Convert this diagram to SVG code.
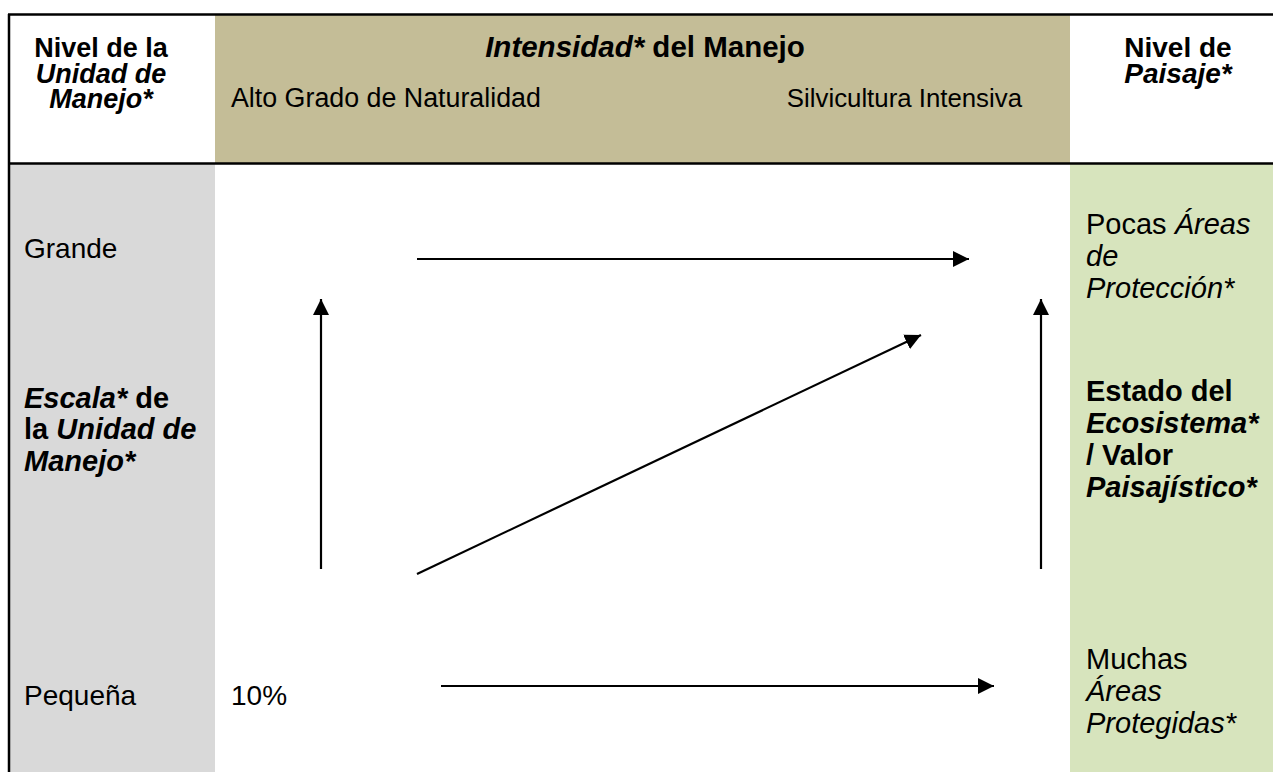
<svg xmlns="http://www.w3.org/2000/svg" width="1273" height="772" viewBox="0 0 1273 772">
<defs>
<style>
text{font-family:"Liberation Sans",Arial,sans-serif;font-size:28px;fill:#000}
.b{font-weight:bold;font-size:29px}
.i{font-style:italic}
.c{text-anchor:middle}
.r{font-size:29px}
.hl{font-size:27px}
.conn line{stroke:#000;stroke-width:2.2;marker-end:url(#ah)}
.rule{stroke:#000;stroke-width:2.5}
</style>
<marker id="ah" markerUnits="userSpaceOnUse" markerWidth="16" markerHeight="16" refX="16" refY="8" orient="auto" viewBox="0 0 16 16">
<path d="M0,0 L16,8 L0,16 z" fill="#000"/>
</marker>
</defs>
<rect width="1273" height="772" fill="#fff"/>
<g id="backgrounds">
<rect x="215" y="15" width="855" height="148" fill="#C4BD97"/>
<rect x="9" y="164" width="206" height="608" fill="#D9D9D9"/>
<rect x="1070" y="164" width="203" height="608" fill="#D7E4BD"/>
</g>
<g id="grid">
<line class="rule" x1="8" y1="14.5" x2="1273" y2="14.5"/>
<line class="rule" x1="8" y1="163.5" x2="1273" y2="163.5"/>
<line class="rule" x1="9" y1="14" x2="9" y2="772"/>
</g>
<g id="hdr-left">
<text class="b c hl" x="101" y="57">Nivel de la</text>
<text class="b i c hl" x="101" y="83">Unidad de</text>
<text class="b i c hl" x="101" y="108">Manejo*</text>
</g>
<g id="hdr-mid">
<text class="b c" x="645" y="57" style="font-size:29.5px"><tspan class="i">Intensidad*</tspan> del Manejo</text>
<text x="231" y="107" style="font-size:26.8px">Alto Grado de Naturalidad</text>
<text x="1022" y="107" text-anchor="end" style="font-size:25.8px">Silvicultura Intensiva</text>
</g>
<g id="hdr-right">
<text class="b c" x="1178" y="57" style="font-size:28px">Nivel de</text>
<text class="b i c" x="1178" y="83" style="font-size:28px">Paisaje*</text>
</g>
<g id="left-col">
<text x="24" y="258">Grande</text>
<text class="b" x="24" y="408"><tspan class="i">Escala*</tspan> de</text>
<text class="b" x="24" y="439">la <tspan class="i">Unidad de</tspan></text>
<text class="b i" x="24" y="471">Manejo*</text>
<text x="24" y="705">Pequeña</text>
</g>
<g id="mid">
<text x="231" y="705">10%</text>
</g>
<g id="right-col">
<text class="r" x="1086" y="234">Pocas <tspan class="i">Áreas</tspan></text>
<text class="r i" x="1086" y="266">de</text>
<text class="r i" x="1086" y="298">Protección*</text>
<text class="b" x="1086" y="401">Estado del</text>
<text class="b i" x="1086" y="433">Ecosistema*</text>
<text class="b" x="1086" y="465">/ Valor</text>
<text class="b i" x="1086" y="497">Paisajístico*</text>
<text class="r" x="1086" y="669">Muchas</text>
<text class="r i" x="1086" y="701">Áreas</text>
<text class="r i" x="1086" y="733">Protegidas*</text>
</g>
<g id="connectors" class="conn">
<line x1="417" y1="259" x2="969" y2="259"/>
<line x1="321" y1="569" x2="321" y2="299"/>
<line x1="1041" y1="569" x2="1041" y2="299"/>
<line x1="417" y1="574" x2="921" y2="335"/>
<line x1="441" y1="686" x2="994" y2="686"/>
</g>
</svg>
